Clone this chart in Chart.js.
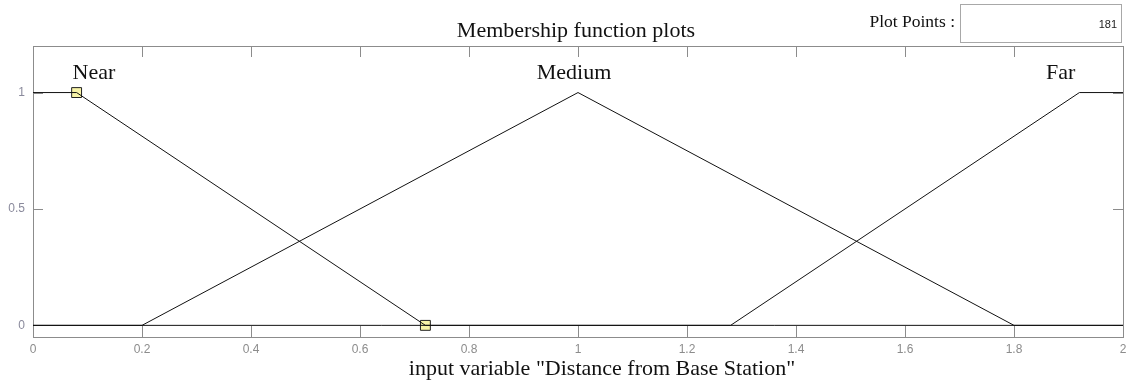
<!DOCTYPE html>
<html>
<head>
<meta charset="utf-8">
<script src="https://cdn.jsdelivr.net/npm/chart.js"></script>
<style>
  body { margin: 0; background: #fff; }
  #wrap { width: 1128px; height: 384px; position: relative; }
</style>
</head>
<body>
<div id="wrap"><canvas id="mfChart"></canvas></div>
<script>
// membership functions (x, mu) for "Distance from Base Station"
const mfNames = ['Near', 'Medium', 'Far'];
const nearX = [0, 0.08, 0.72, 2];
const nearY = [1, 1, 0, 0];
const mediumX = [0, 0.2, 1, 1.8, 2];
const mediumY = [0, 0, 1, 0, 0];
const farX = [0, 1.28, 1.92, 2];
const farY = [0, 0, 1, 1];
// selected MF handles (Near)
const handleX = [0.08, 0.72];
const handleY = [1, 0];
// label anchor for each MF name: x value and alignment
const labelAt = [0.08, 1, 1.92];
const labelAlign = ['left', 'center', 'right'];
const xTicks = [0, 0.2, 0.4, 0.6, 0.8, 1, 1.2, 1.4, 1.6, 1.8, 2];
const yTicks = [0, 0.5, 1];
const plotTitle = 'Membership function plots';
const xTitle = 'input variable "Distance from Base Station"';
const plotPoints = '181';

const gray = '#8c8c8c';
const serif = '"Liberation Serif", "Times New Roman", serif';

function pts(xs, ys) {
  return xs.map((x, i) => ({ x: x, y: ys[i] }));
}

const mfSets = [[nearX, nearY], [mediumX, mediumY], [farX, farY]].map((p, i) => ({
  label: mfNames[i],
  data: pts(p[0], p[1]),
  showLine: true,
  borderColor: '#111',
  borderWidth: 1,
  pointRadius: 0,
  tension: 0
}));

const handleSet = {
  label: 'handles',
  data: pts(handleX, handleY),
  showLine: false,
  pointStyle: 'rect',
  pointRadius: 7,
  pointBackgroundColor: '#f8f4a8',
  pointBorderColor: '#222',
  pointBorderWidth: 1
};

const framePlugin = {
  id: 'frame',
  beforeDatasetsDraw(chart) {
    const ctx = chart.ctx;
    const a = chart.chartArea;
    const xs = chart.scales.x;
    const ys = chart.scales.y;
    ctx.save();
    ctx.strokeStyle = gray;
    ctx.lineWidth = 1;
    ctx.strokeRect(Math.round(a.left) + 0.5, Math.round(a.top) + 0.5,
      Math.round(a.right - a.left), Math.round(a.bottom - a.top));

    // inward tick marks
    ctx.beginPath();
    xTicks.forEach(v => {
      const px = Math.round(xs.getPixelForValue(v)) + 0.5;
      ctx.moveTo(px, a.bottom);
      ctx.lineTo(px, a.bottom - 11);
      ctx.moveTo(px, a.top);
      ctx.lineTo(px, a.top + 11);
    });
    yTicks.forEach(v => {
      const py = Math.round(ys.getPixelForValue(v)) + 0.5;
      ctx.moveTo(a.left, py);
      ctx.lineTo(a.left + 10, py);
      ctx.moveTo(a.right, py);
      ctx.lineTo(a.right - 10, py);
    });
    ctx.stroke();
    ctx.restore();
  },
  afterDraw(chart) {
    const ctx = chart.ctx;
    const xs = chart.scales.x;
    ctx.save();
    // MF names
    ctx.fillStyle = '#111';
    ctx.font = '22px ' + serif;
    ctx.textBaseline = 'alphabetic';
    mfNames.forEach((n, i) => {
      ctx.textAlign = labelAlign[i];
      ctx.fillText(n, xs.getPixelForValue(labelAt[i]) - 4, 79);
    });

    // title and axis title
    ctx.textAlign = 'center';
    ctx.fillText(plotTitle, 576, 37);
    ctx.fillText(xTitle, 602, 375);

    // Plot Points box
    ctx.font = '17.5px ' + serif;
    ctx.textAlign = 'right';
    ctx.fillText('Plot Points :', 955, 27);
    ctx.strokeStyle = '#a8a8a8';
    ctx.strokeRect(960.5, 4.5, 161, 38);
    ctx.font = '11px "Liberation Sans", Arial, sans-serif';
    ctx.fillStyle = '#222';
    ctx.textBaseline = 'middle';
    ctx.fillText(plotPoints, 1117, 25);
    ctx.restore();
  }
};

new Chart(document.getElementById('mfChart'), {
  type: 'scatter',
  data: { datasets: mfSets.concat([handleSet]) },
  options: {
    responsive: true,
    maintainAspectRatio: false,
    animation: false,
    layout: { autoPadding: false, padding: { top: 46, right: 5, left: 0, bottom: 0 } },
    plugins: {
      legend: { display: false },
      tooltip: { enabled: false }
    },
    scales: {
      x: {
        type: 'linear',
        min: 0,
        max: 2,
        afterBuildTicks: s => { s.ticks = xTicks.map(v => ({ value: v })); },
        afterFit: s => { s.height = 47; s.paddingLeft = 0; s.paddingRight = 0; },
        border: { display: false },
        grid: { display: false, drawTicks: false },
        ticks: {
          padding: 5,
          color: gray,
          autoSkip: false,
          maxRotation: 0,
          font: { family: '"Liberation Sans", Arial, sans-serif', size: 12 },
          callback: v => String(Number(v.toFixed(2)))
        }
      },
      y: {
        type: 'linear',
        min: -0.05,
        max: 1.2,
        afterBuildTicks: s => { s.ticks = yTicks.map(v => ({ value: v })); },
        afterFit: s => { s.width = 33; s.paddingTop = 0; s.paddingBottom = 0; },
        border: { display: false },
        grid: { display: false, drawTicks: false },
        ticks: {
          padding: 8,
          color: '#8a8a9c',
          font: { family: '"Liberation Sans", Arial, sans-serif', size: 12 },
          callback: v => String(v)
        }
      }
    }
  },
  plugins: [framePlugin]
});
</script>
</body>
</html>
